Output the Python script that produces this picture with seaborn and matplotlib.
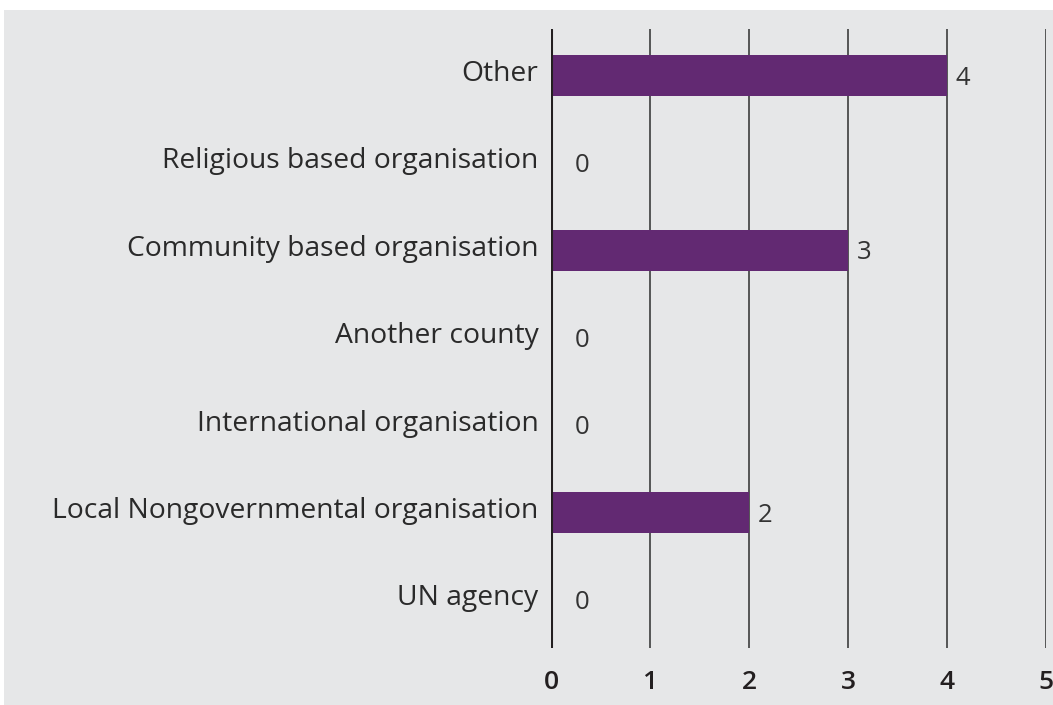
import matplotlib
matplotlib.use("Agg")
import matplotlib.pyplot as plt
import matplotlib.transforms as mtransforms
import seaborn as sns
import pandas as pd
from matplotlib.patches import Rectangle

categories = [
    "Other",
    "Religious based organisation",
    "Community based organisation",
    "Another county",
    "International organisation",
    "Local Nongovernmental organisation",
    "UN agency",
]
counts = [4, 0, 3, 0, 0, 2, 0]
x_ticks = [0, 1, 2, 3, 4, 5]

BG = "#e6e7e8"
PURPLE = "#622972"
DARK = "#231f20"

sns.set_theme(style="white")
plt.rcParams["font.family"] = ["Open Sans", "DejaVu Sans"]

df = pd.DataFrame({"category": categories, "count": counts})

fig = plt.figure(figsize=(10.53, 7.05), dpi=100, facecolor="white")
# grey panel behind the whole chart, leaving a thin white margin top and left
fig.patches.append(Rectangle((4 / 1053, 0), 1, 1 - 10 / 705,
                             transform=fig.transFigure, facecolor=BG,
                             edgecolor="none", zorder=-10))

ax = fig.add_axes([551 / 1053, 1 - 648 / 705, 495 / 1053, (648 - 29) / 705])
ax.set_facecolor(BG)

sns.barplot(data=df, x="count", y="category", order=categories,
            color=PURPLE, saturation=1, width=0.47, linewidth=0,
            edgecolor="none", ax=ax, zorder=3)

ax.set_xlim(0, 5)
ax.set_ylim(6.55, -0.53)
ax.set_xticks(x_ticks)
ax.set_xticklabels([str(t) for t in x_ticks], fontsize=19, fontweight="semibold",
                   color=DARK)
ax.tick_params(axis="x", length=0, pad=16)
ax.tick_params(axis="y", length=0, pad=9)
ax.set_yticks(range(len(categories)))
ax.set_yticklabels(categories, fontsize=20.3, color="#2a2a2a")
lift = mtransforms.ScaledTranslation(0, 5 / 100, fig.dpi_scale_trans)
for lab in ax.get_yticklabels():
    lab.set_transform(lab.get_transform() + lift)

ax.set_xlabel("")
ax.set_ylabel("")

# vertical gridlines
for t in x_ticks[1:]:
    ax.axvline(t, color="#2e2e2e", linewidth=1.1, zorder=1)
ax.axvline(0, color=DARK, linewidth=2.2, zorder=4)

for s in ax.spines.values():
    s.set_visible(False)

# value labels
for i, v in enumerate(counts):
    ax.annotate(str(v), xy=(v, i), xytext=(6 if v > 0 else 17, -2),
                textcoords="offset points", va="center", ha="left",
                fontsize=18.5, color="#333333")

fig.savefig("out.png", dpi=100, facecolor="white")
